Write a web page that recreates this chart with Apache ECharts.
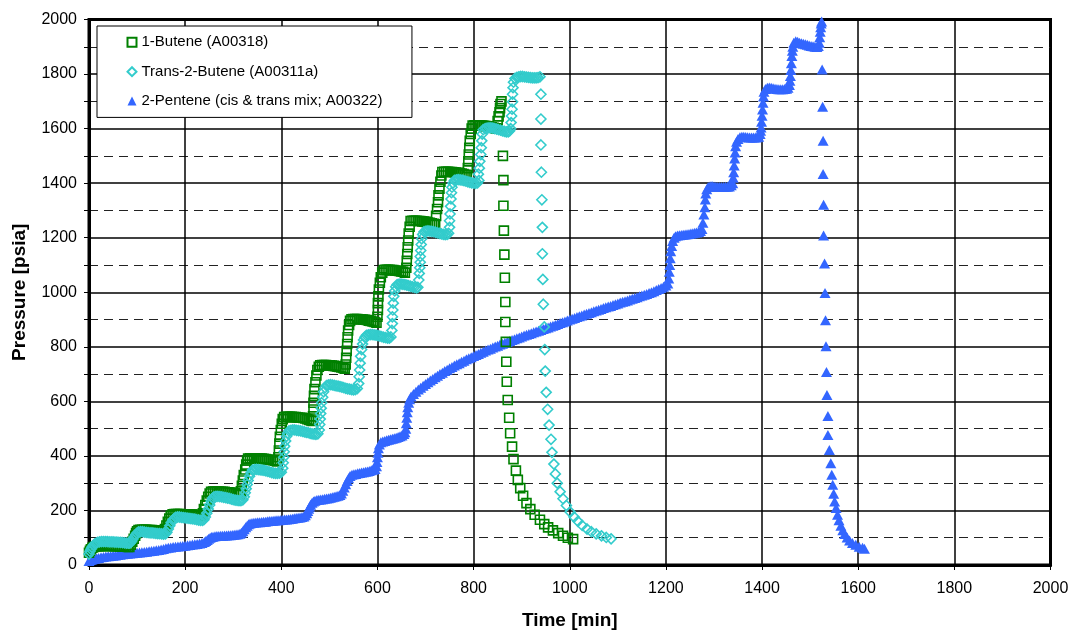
<!DOCTYPE html>
<html><head><meta charset="utf-8">
<script src="https://cdn.jsdelivr.net/npm/echarts@6/dist/echarts.min.js"></script>
<style>html,body{margin:0;padding:0;background:#fff}#c{width:1071px;height:630px}</style>
</head><body><div id="c"></div>
<script>
const seriesNames = ['1-Butene (A00318)', 'Trans-2-Butene (A00311a)', '2-Pentene (cis & trans mix; A00322)'];
const axisTitles = { x: 'Time [min]', y: 'Pressure [psia]' };

// [time (min), pressure (psia)]
const butene1 = [
[0,45],[2,52],[4,58],[7,63],[10,66],
[13,68],[17,69],[21,69],[25,70],[29,70],[33,70],[37,70],[41,70],[45,70],[49,70],[53,69],[57,69],[61,69],[65,68],[69,68],[73,67],[77,67],[81,66],[84,66],
[87,74],[90,85],[93,96],[96,107],[98,117],[100,124],
[103,128],[107,129],[111,129],[115,129],[119,129],[123,128],[127,128],[131,128],[135,127],[139,127],[143,126],[147,126],[151,125],[155,124],
[158,132],[161,145],[164,158],[167,170],[170,180],
[174,186],[178,187],[182,187],[186,187],[190,187],[194,186],[198,186],[202,186],[206,185],[210,185],[214,185],[218,184],[222,184],[226,183],[230,181],[234,180],
[237,190],[239,205],[242,220],[245,236],[248,250],[251,262],
[254,268],[258,269],[262,269],[266,269],[270,269],[274,268],[278,268],[282,268],[286,267],[290,267],[294,266],[298,265],[302,264],[306,263],[310,261],[314,259],
[316,270],[318,290],[320,310],[322,330],[325,350],[327,368],[329,383],
[331,390],[335,391],[339,391],[343,391],[347,391],[351,390],[355,390],[359,390],[363,389],[367,388],[371,387],[375,386],[379,385],[383,384],[387,382],[391,380],
[394,395],[395,420],[396,445],[397,470],[399,495],[401,518],[403,535],
[406,542],[410,543],[414,543],[418,543],[422,543],[426,542],[430,542],[434,541],[438,540],[442,540],[446,539],[450,537],[454,535],[458,532],[462,530],[465,528],
[466,545],[467,570],[467,595],[468,620],[469,645],[471,670],[473,695],[475,715],[478,727],
[481,732],[485,733],[489,733],[493,733],[497,732],[501,732],[505,731],[509,730],[513,729],[517,727],[521,726],[525,724],[529,722],[532,720],
[534,735],[535,760],[536,785],[537,810],[538,835],[539,860],[541,880],[543,895],
[546,901],[550,902],[554,902],[558,902],[562,901],[566,901],[570,900],[574,899],[578,898],[582,896],[586,895],[590,893],[594,891],[598,888],
[600,910],[601,935],[601,960],[602,985],[603,1010],[605,1035],[607,1055],[610,1072],
[613,1081],[617,1082],[621,1082],[625,1082],[629,1081],[633,1081],[637,1080],[641,1079],[645,1078],[649,1076],[653,1075],[657,1072],
[660,1090],[661,1115],[662,1140],[663,1165],[664,1190],[665,1215],[667,1240],
[669,1261],[673,1262],[677,1262],[681,1262],[685,1261],[689,1261],[693,1260],[697,1259],[701,1258],[705,1256],[709,1255],[713,1253],[717,1251],[720,1249],
[722,1280],[724,1305],[726,1330],[727,1355],[729,1380],[731,1405],[733,1428],
[735,1441],[739,1442],[743,1442],[747,1442],[751,1441],[755,1441],[759,1440],[763,1439],[767,1438],[771,1437],[775,1435],[779,1433],[783,1431],[786,1430],
[788,1455],[789,1480],[790,1505],[791,1530],[792,1555],[794,1580],[796,1600],
[798,1611],[802,1612],[806,1612],[810,1612],[814,1611],[818,1611],[822,1610],[826,1609],[830,1608],[834,1606],[838,1605],[842,1603],[846,1601],[849,1600],
[850,1628],[852,1645],[854,1660],[855,1675],[856,1690],[858,1700],
[861,1500],[862,1411],[862,1317],[863,1226],[864,1138],[865,1053],[866,964],[866,891],[867,818],[868,745],[869,672],[871,605],[874,540],[876,483],[880,434],[883,388],[888,346],[892,312],[897,282],[903,254],[910,227],[918,205],[927,184],[938,166],[947,150],[955,138],[965,127],[976,117],[986,107],[996,100],[1007,95]
];

const trans2Butene = [
[0,40],[2,50],[4,58],[6,65],[9,72],[12,77],[15,80],
[18,83],[22,85],[26,86],[30,86],[34,86],[38,86],[42,85],[46,85],[50,85],[54,84],[58,84],[62,83],[66,83],[70,82],[74,81],[78,80],[82,80],[85,80],
[88,85],[91,94],[94,103],[97,111],[100,117],
[103,121],[107,122],[111,122],[115,121],[119,120],[123,119],[127,118],[131,118],[135,117],[139,116],[143,115],[147,115],[151,114],[155,113],[159,114],
[162,120],[165,132],[168,144],[171,155],[174,164],[177,170],
[180,175],[184,176],[188,176],[192,175],[196,174],[200,173],[204,172],[208,171],[212,170],[216,169],[220,168],[224,166],[228,165],[232,164],[236,164],[239,166],
[242,176],[245,190],[248,205],[251,220],[254,234],[257,245],
[260,250],[264,252],[268,252],[272,251],[276,250],[280,248],[284,247],[288,245],[292,244],[296,242],[300,240],[304,238],[308,237],[312,236],[316,236],[320,239],
[323,250],[325,265],[327,280],[329,295],[331,310],[334,325],[337,338],
[340,348],[344,350],[348,351],[352,350],[356,349],[360,348],[364,347],[368,345],[372,343],[376,341],[380,339],[384,337],[388,336],[392,336],[396,337],[400,340],
[403,355],[404,375],[405,395],[406,415],[407,435],[409,455],[411,472],[413,483],
[416,492],[420,494],[424,495],[428,495],[432,494],[436,493],[440,492],[444,490],[448,488],[452,486],[456,485],[460,483],[464,481],[468,480],[472,479],[476,481],
[479,495],[480,515],[481,535],[482,555],[483,575],[484,595],[486,615],[488,635],[491,650],
[494,658],[498,660],[502,661],[506,660],[510,659],[514,657],[518,656],[522,654],[526,652],[530,650],[534,648],[538,646],[542,645],[546,643],[550,642],[554,643],[558,647],
[561,665],[562,690],[563,715],[564,740],[565,765],[567,790],[569,810],[571,825],[574,835],
[577,842],[581,844],[585,845],[589,845],[593,844],[597,843],[601,841],[605,839],[609,837],[613,835],[617,834],[621,832],[625,832],[628,836],
[630,860],[631,885],[631,910],[632,935],[633,960],[634,985],[636,1005],[638,1020],
[641,1028],[645,1030],[649,1030],[653,1029],[657,1028],[661,1026],[665,1024],[669,1022],[673,1020],[677,1018],[681,1016],[684,1018],
[686,1045],[687,1069],[688,1090],[689,1110],[689,1131],[690,1153],[691,1175],[692,1196],[694,1212],
[697,1222],[701,1224],[705,1225],[709,1224],[713,1223],[717,1222],[721,1220],[725,1218],[729,1216],[733,1214],[737,1212],[741,1211],[745,1212],[748,1216],
[750,1238],[750,1262],[751,1287],[752,1315],[753,1342],[754,1365],[755,1385],[757,1400],
[760,1410],[764,1412],[768,1413],[772,1412],[776,1411],[780,1409],[784,1407],[788,1405],[792,1403],[796,1401],[800,1400],[804,1399],[808,1401],[811,1410],
[810,1433],[812,1455],[813,1480],[815,1505],[816,1530],[817,1555],[818,1580],
[820,1596],[824,1600],[828,1602],[832,1603],[836,1603],[840,1602],[844,1600],[848,1598],[852,1596],[856,1594],[860,1592],[864,1590],[868,1588],[872,1588],[875,1592],[877,1600],
[878,1622],[879,1646],[880,1671],[881,1698],[881,1726],[882,1750],[883,1770],
[886,1784],[890,1788],[894,1790],[898,1791],[902,1791],[906,1790],[910,1789],[914,1788],[918,1787],[922,1786],[926,1786],[930,1786],[934,1787],[938,1790],
[940,1726],[940,1635],[940,1540],[941,1440],[942,1339],[943,1238],[943,1141],[944,1047],[945,956],[947,873],[948,790],[949,711],[951,633],[954,571],[957,513],[961,461],[963,413],[967,370],[970,334],[974,300],[980,269],[986,243],[993,218],[1001,194],[1009,176],[1017,160],[1026,145],[1036,132],[1045,122],[1055,114],[1066,107],[1076,101],[1086,96]
];

const pentene2 = [
[0,15],[3,18],[6,20],[9,22],[12,23],[16,25],[20,26],[25,28],[30,29],[35,31],[40,32],[45,33],[50,34],[55,35],[60,37],[65,38],[70,39],[75,40],[80,41],[85,42],[90,43],[95,44],[100,45],[105,46],[110,47],[115,48],[120,49],[125,50],[130,51],[135,52],[140,54],[145,55],[150,57],[155,59],[160,61],[165,63],[170,64],[175,66],[180,67],[185,68],[190,69],[195,70],[200,71],[205,72],[210,73],[215,75],[220,76],[225,77],[230,79],[235,81],
[240,84],[243,88],[246,92],[249,96],[252,100],[255,103],
[258,104],[262,105],[266,106],[270,106],[274,107],[278,107],[282,108],[286,108],[290,109],[294,109],[298,110],[302,111],[306,112],[310,113],[314,115],
[317,118],[320,124],[323,131],[326,138],[329,144],[332,149],[335,152],
[339,154],[343,155],[347,156],[351,157],[355,157],[359,158],[363,159],[367,159],[371,160],[375,161],[379,161],[383,162],[387,163],[391,164],[395,164],[399,165],[403,166],[407,167],[411,167],[415,168],[419,169],[423,170],[427,171],[431,172],[435,173],[439,174],[443,176],[447,178],
[450,182],[453,190],[455,198],[457,206],[459,214],[461,221],[464,228],[467,233],
[470,236],[474,238],[478,239],[482,240],[486,241],[490,243],[494,244],[498,245],[502,247],[506,248],[510,250],[514,252],[518,254],[522,257],
[525,262],[528,272],[531,284],[534,296],[537,308],[540,318],[543,326],
[547,331],[551,333],[555,334],[559,336],[563,337],[567,339],[571,340],[575,342],[579,343],[583,345],[587,347],[591,349],[595,352],
[598,362],[599,378],[600,395],[601,412],[602,428],[604,442],
[607,450],[611,453],[615,455],[619,457],[623,459],[627,461],[631,463],[635,465],[639,467],[643,469],[647,472],[651,475],[655,480],[657,487],
[659,500],[660,520],[661,540],[662,560],[663,578],[665,595],[667,608],
[670,618],[675,627],[680,635],[685,643],[690,650],[695,657],[700,664],[705,670],[710,676],[715,682],[720,688],[725,694],[730,700],[735,705],[740,711],[745,716],[750,721],[755,726],[760,731],[765,736],[770,740],[775,745],[780,749],[785,754],[790,758],[795,762],[800,766],[805,770],[810,774],[815,778],[820,782],[825,786],[830,790],[835,793],[840,797],[845,801],[850,804],[855,808],[860,811],[865,815],[870,818],[875,821],[880,825],[885,828],[890,831],[895,834],[900,838],[905,841],[910,844],[915,847],[920,850],[925,853],[930,856],[935,859],[940,862],[945,865],[950,868],[955,871],[960,874],[965,877],[970,880],[975,884],[980,887],[985,890],[990,893],[995,896],[1000,900],[1005,903],[1010,906],[1015,909],[1020,912],[1025,915],[1030,918],[1035,921],[1040,924],[1045,927],[1050,930],[1055,933],[1060,936],[1065,939],[1070,942],[1075,945],[1080,948],[1085,950],[1090,953],[1095,956],[1100,959],[1105,962],[1110,965],[1115,967],[1120,970],[1125,973],[1130,976],[1135,979],[1140,982],[1145,985],[1150,988],[1155,991],[1160,994],[1165,997],[1170,1000],[1175,1004],[1180,1008],[1185,1012],[1190,1016],[1195,1020],[1200,1025],[1204,1032],
[1206,1050],[1207,1075],[1208,1100],[1209,1125],[1210,1150],[1212,1170],[1214,1188],[1217,1200],
[1220,1205],[1224,1208],[1228,1209],[1232,1210],[1236,1211],[1240,1212],[1244,1213],[1248,1214],[1252,1215],[1256,1216],[1260,1218],[1264,1219],[1268,1221],[1272,1225],[1275,1232],
[1277,1255],[1279,1285],[1281,1312],[1282,1340],[1283,1362],[1285,1378],
[1288,1386],[1292,1389],[1296,1390],[1300,1388],[1304,1387],[1308,1386],[1312,1386],[1316,1386],[1320,1386],[1324,1387],[1328,1387],[1332,1388],[1336,1392],[1339,1400],
[1340,1420],[1341,1440],[1342,1465],[1343,1490],[1344,1512],[1345,1535],[1347,1552],
[1350,1562],[1354,1568],[1358,1570],[1362,1570],[1366,1569],[1370,1568],[1374,1567],[1378,1567],[1382,1567],[1386,1567],[1390,1568],[1393,1570],[1396,1580],[1397,1592],
[1398,1604],[1399,1625],[1400,1647],[1401,1670],[1402,1695],[1403,1718],[1404,1735],
[1407,1745],[1411,1750],[1415,1751],[1419,1750],[1423,1748],[1427,1746],[1431,1745],[1435,1744],[1439,1744],[1443,1744],[1447,1745],[1451,1746],[1454,1750],[1457,1760],
[1458,1775],[1459,1793],[1460,1815],[1461,1840],[1462,1866],[1463,1885],[1464,1900],
[1466,1915],[1470,1920],[1474,1918],[1478,1915],[1482,1913],[1486,1911],[1490,1909],[1494,1907],[1498,1905],[1502,1903],[1506,1902],[1510,1900],[1514,1899],[1517,1903],[1519,1915],
[1520,1935],[1521,1955],[1522,1972],[1523,1985],[1524,1993],
[1525,1817],[1526,1680],[1527,1555],[1527,1434],[1528,1321],[1528,1208],[1530,1105],[1531,997],[1532,897],[1533,802],[1534,708],[1535,623],[1537,546],[1537,477],[1540,422],[1543,373],[1545,331],[1547,294],[1549,261],[1551,233],[1554,209],[1557,184],[1560,164],[1564,144],[1568,127],[1572,114],[1577,101],[1582,90],[1588,81],[1595,74],[1602,67],[1609,63],[1613,60]
];

const FONT = '"Liberation Sans", Arial, sans-serif';
const plain = v => String(v);
const chart = echarts.init(document.getElementById('c'), null, { renderer: 'canvas' });
chart.setOption({
  animation: false,
  backgroundColor: '#fff',
  textStyle: { fontFamily: FONT, color: '#000' },
  grid: { left: 89, right: 20.5, top: 19.5, bottom: 65, show: true, borderColor: '#000', borderWidth: 3,
          backgroundColor: '#fff', containLabel: false, outerBoundsMode: 'none' },
  legend: {
    data: seriesNames,
    orient: 'vertical',
    left: 97, top: 26,
    padding: [8.8, 29.5, 8.8, 29.5],
    itemGap: 14.4,
    itemWidth: 9, itemHeight: 9,
    backgroundColor: '#fff', borderColor: '#000', borderWidth: 1,
    textStyle: { fontSize: 15, color: '#000', fontFamily: FONT },
    z: 10
  },
  xAxis: {
    type: 'value', min: 0, max: 2000, interval: 200,
    axisLine: { show: true, onZero: false, lineStyle: { color: '#000', width: 3 } },
    axisTick: { show: true, length: 5, lineStyle: { color: '#000', width: 1 } },
    axisLabel: { fontSize: 16, color: '#000', margin: 16, fontFamily: FONT, formatter: plain },
    splitLine: { show: true, lineStyle: { color: '#000', width: 1.5 } },
    name: axisTitles.x, nameLocation: 'middle', nameGap: 46,
    nameTextStyle: { fontSize: 19, fontWeight: 'bold', color: '#000', fontFamily: FONT }
  },
  yAxis: {
    type: 'value', min: 0, max: 2000, interval: 200,
    axisLine: { show: true, lineStyle: { color: '#000', width: 3 } },
    axisTick: { show: true, length: 5, lineStyle: { color: '#000', width: 1 } },
    minorTick: { show: true, splitNumber: 2, length: 5, lineStyle: { color: '#000', width: 1 } },
    axisLabel: { fontSize: 16, color: '#000', margin: 12, fontFamily: FONT, formatter: plain },
    splitLine: { show: true, lineStyle: { color: '#000', width: 1.5 } },
    minorSplitLine: { show: true, lineStyle: { color: '#222', width: 1, type: [9, 6] } },
    name: axisTitles.y, nameLocation: 'middle', nameGap: 60,
    nameTextStyle: { fontSize: 19, fontWeight: 'bold', color: '#000', fontFamily: FONT }
  },
  series: [
    { name: seriesNames[2], type: 'scatter', data: pentene2, symbol: 'triangle', symbolSize: [11, 10], clip: false, z: 2,
      itemStyle: { color: '#3366FF', opacity: 1 } },
    { name: seriesNames[0], type: 'scatter', data: butene1, symbol: 'rect', symbolSize: 9, clip: false, z: 3,
      itemStyle: { color: 'rgba(255,255,255,0)', borderColor: '#008000', borderWidth: 1.6, opacity: 1 } },
    { name: seriesNames[1], type: 'scatter', data: trans2Butene, symbol: 'diamond', symbolSize: 10, clip: false, z: 4,
      itemStyle: { color: 'rgba(255,255,255,0)', borderColor: '#33CCCC', borderWidth: 1.6, opacity: 1 } }
  ]
});
</script>
</body></html>
